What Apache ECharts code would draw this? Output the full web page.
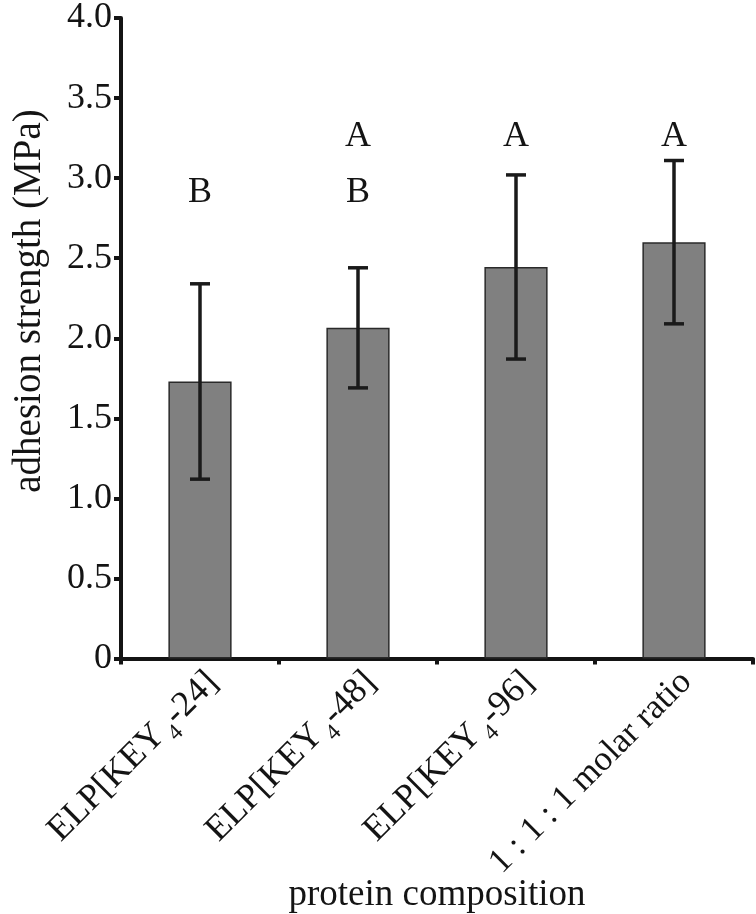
<!DOCTYPE html>
<html>
<head>
<meta charset="utf-8">
<script src="https://cdn.jsdelivr.net/npm/echarts@6/dist/echarts.min.js"></script>
<style>html,body{margin:0;padding:0;background:#fff}#c{width:756px;height:914px}</style>
</head>
<body>
<div id="c"></div>
<script>
// ---- data ----
const categories = ['ELP[KEY₄-24]', 'ELP[KEY₄-48]', 'ELP[KEY₄-96]', '1 : 1 : 1 molar ratio'];
const means = [1.73, 2.065, 2.445, 2.60];
const errors = [0.61, 0.375, 0.575, 0.51];
const yMin = 0, yMax = 4, yStep = 0.5;
const letterCats = [0, 1, 1, 2, 3];
const letterValues = [2.91, 2.91, 3.26, 3.26, 3.26];
const letterTexts = ['B', 'B', 'A', 'A', 'A'];
const yAxisTitle = 'adhesion strength (MPa)';
const xAxisTitle = 'protein composition';

const FONT = '"Liberation Serif", "Times New Roman", serif';
const INK = '#141414';

const chart = echarts.init(document.getElementById('c'), null, {renderer: 'canvas'});

const errData = means.map((m, i) => [i, m, errors[i]]);
const letterData = letterCats.map((c, i) => [c, letterValues[i], letterTexts[i]]);

chart.setOption({
  animation: false,
  backgroundColor: '#fff',
  grid: {left: 121, right: 3, top: 18, bottom: 255.5, containLabel: false, outerBoundsMode: 'none'},
  xAxis: {
    type: 'category',
    data: categories,
    boundaryGap: true,
    name: xAxisTitle,
    nameLocation: 'middle',
    nameGap: 218,
    nameMoveOverlap: false,
    nameTextStyle: {fontFamily: FONT, fontSize: 37, color: INK},
    axisLine: {show: true, onZero: false, lineStyle: {color: INK, width: 4}},
    axisTick: {show: true, length: 6, alignWithLabel: false, interval: 0, lineStyle: {color: INK, width: 4}},
    axisLabel: {
      interval: 0,
      rotate: 45,
      margin: 6,
      verticalAlign: 'top',
      color: INK,
      fontFamily: FONT,
      fontSize: 36,
      formatter: function (v) {
        if (v.indexOf('₄') >= 0) {
          const parts = v.split('₄');
          return '{n|' + parts[0] + '}{s|4}{n|' + parts[1] + '}';
        }
        return '{m|' + v + '}';
      },
      rich: {
        n: {fontFamily: FONT, fontSize: 36, color: INK, lineHeight: 40, verticalAlign: 'top'},
        m: {fontFamily: FONT, fontSize: 35, color: INK, lineHeight: 40, verticalAlign: 'top'},
        s: {fontFamily: FONT, fontSize: 23, color: INK, lineHeight: 23, verticalAlign: 'top', padding: [20, 0, 0, 3]}
      }
    },
    splitLine: {show: false}
  },
  yAxis: {
    type: 'value',
    min: yMin, max: yMax, interval: yStep,
    axisLine: {show: true, lineStyle: {color: INK, width: 4}},
    axisTick: {show: true, length: 7, inside: false, lineStyle: {color: INK, width: 4}},
    axisLabel: {
      margin: 9,
      color: INK,
      fontFamily: FONT,
      fontSize: 36,
      formatter: v => (v === 0 ? '0' : v.toFixed(1))
    },
    splitLine: {show: false}
  },
  graphic: [{
    type: 'text',
    x: 30, y: 301,
    rotation: Math.PI / 2,
    style: {
      text: yAxisTitle,
      fontFamily: FONT, fontSize: 39,
      fill: INK,
      align: 'center', verticalAlign: 'middle'
    }
  }],
  series: [
    {
      type: 'bar',
      data: means,
      barWidth: '40%',
      itemStyle: {color: '#808080', borderColor: '#2a2a2a', borderWidth: 1.5},
      z: 2
    },
    {
      type: 'custom',
      data: errData,
      z: 5,
      renderItem: function (params, api) {
        const x = api.value(0), m = api.value(1), e = api.value(2);
        const top = api.coord([x, m + e]);
        const bot = api.coord([x, m - e]);
        const hw = 10;
        const st = {stroke: '#1a1a1a', lineWidth: 3.5};
        return {
          type: 'group',
          children: [
            {type: 'line', shape: {x1: top[0], y1: top[1], x2: bot[0], y2: bot[1]}, style: st},
            {type: 'line', shape: {x1: top[0] - hw, y1: top[1], x2: top[0] + hw, y2: top[1]}, style: st},
            {type: 'line', shape: {x1: bot[0] - hw, y1: bot[1], x2: bot[0] + hw, y2: bot[1]}, style: st}
          ]
        };
      }
    },
    {
      type: 'custom',
      data: letterData,
      z: 6,
      renderItem: function (params, api) {
        const p = api.coord([api.value(0), api.value(1)]);
        return {
          type: 'text',
          x: p[0], y: p[1],
          style: {
            text: letterTexts[params.dataIndex],
            fontFamily: FONT, fontSize: 36,
            fill: INK,
            align: 'center', verticalAlign: 'middle'
          }
        };
      }
    }
  ]
});
</script>
</body>
</html>
